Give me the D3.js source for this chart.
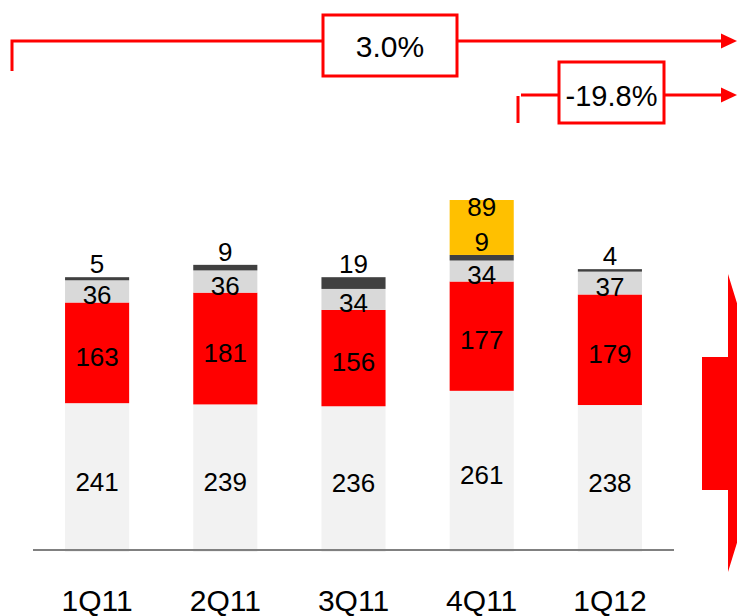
<!DOCTYPE html>
<html>
<head>
<meta charset="utf-8">
<script src="https://cdn.jsdelivr.net/npm/d3@7"></script>
<style>
  html, body { margin: 0; padding: 0; background: #fff; overflow: hidden; }
  text { font-family: Arial, "Liberation Sans", sans-serif; fill: #000; }
</style>
</head>
<body>
<div id="chart"></div>
<script>
// quarterly values, bottom segment first
const quarters = ["1Q11", "2Q11", "3Q11", "4Q11", "1Q12"];
const base   = [241, 239, 236, 261, 238];
const core   = [163, 181, 156, 177, 179];
const other  = [36, 36, 34, 34, 37];
const minor  = [5, 9, 19, 9, 4];
const extra  = [0, 0, 0, 89, 0];

const changeLabels = ["3.0%", "-19.8%"];

const width = 737, height = 616;

let svg = d3.select("#chart").append("svg")
    .attr("width", width)
    .attr("height", height);

let x = d3.scaleBand()
    .domain(quarters)
    .range([33, 674])
    .paddingInner(0.5)
    .paddingOuter(0.25);

let y = d3.scaleLinear()
    .domain([0, 570])
    .range([552, 200]);

let keys = ["base", "core", "other", "minor", "extra"];
let colors = {
  base: "#f2f2f2", core: "#ff0000", other: "#d9d9d9",
  minor: "#404040", extra: "#ffc000"
};

let table = quarters.map(function(q, i) {
  return { q: q, base: base[i], core: core[i], other: other[i],
           minor: minor[i], extra: extra[i] };
});

let series = d3.stack().keys(keys)(table);

let groups = svg.selectAll("g.layer")
  .data(series)
  .enter()
  .append("g")
  .attr("class", "layer")
  .attr("fill", function(d) { return colors[d.key]; });

groups.selectAll("rect")
  .data(function(d) { return d.filter(function(p) { return p[1] > p[0]; }); })
  .enter()
  .append("rect")
  .attr("x", function(d) { return x(d.data.q); })
  .attr("width", x.bandwidth())
  .attr("y", function(d) { return y(d[1]); })
  .attr("height", function(d) { return y(d[0]) - y(d[1]); });

// axis line
svg.append("line")
  .attr("x1", x.range()[0]).attr("x2", x.range()[1])
  .attr("y1", 550).attr("y2", 550)
  .attr("stroke", "#808080")
  .attr("stroke-width", 2);

// category labels
svg.selectAll("text.cat")
  .data(quarters)
  .enter()
  .append("text")
  .attr("class", "cat")
  .attr("x", function(d) { return x(d) + x.bandwidth() / 2; })
  .attr("y", 611)
  .attr("text-anchor", "middle")
  .attr("font-size", 30)
  .text(function(d) { return d; });

// value labels
let labels = [];
series.forEach(function(s) {
  s.forEach(function(p) {
    let v = p.data[s.key];
    if (!v) return;
    let cx = x(p.data.q) + x.bandwidth() / 2;
    let ly;
    if (s.key === "minor") ly = y(p[1]) - 4;
    else if (s.key === "extra") ly = y(p[1]) + 16;
    else ly = (y(p[0]) + y(p[1])) / 2 + 13;
    labels.push({ x: cx, y: ly, t: v });
  });
});

svg.selectAll("text.val")
  .data(labels)
  .enter()
  .append("text")
  .attr("class", "val")
  .attr("x", function(d) { return d.x; })
  .attr("y", function(d) { return d.y; })
  .attr("text-anchor", "middle")
  .attr("font-size", 26)
  .text(function(d) { return d.t; });

// growth brackets
let red = "#ff0000";

function arrowHead(yy) {
  svg.append("path")
    .attr("d", "M721," + (yy - 7.5) + "L737," + yy + "L721," + (yy + 7.5) + "Z")
    .attr("fill", red);
}

// 3.0% bracket
svg.append("path")
  .attr("d", "M12,71V41H323M457,41H722")
  .attr("fill", "none").attr("stroke", red).attr("stroke-width", 3);
svg.append("rect")
  .attr("x", 323).attr("y", 15).attr("width", 134).attr("height", 61)
  .attr("fill", "#fff").attr("stroke", red).attr("stroke-width", 3);
svg.append("text")
  .attr("x", 390).attr("y", 57)
  .attr("text-anchor", "middle").attr("font-size", 30)
  .text(changeLabels[0]);
arrowHead(41);

// -19.8% bracket
svg.append("path")
  .attr("d", "M518,123V96M521,95H559M664,95H722")
  .attr("fill", "none").attr("stroke", red).attr("stroke-width", 3);
svg.append("rect")
  .attr("x", 559).attr("y", 62).attr("width", 105).attr("height", 61)
  .attr("fill", "#fff").attr("stroke", red).attr("stroke-width", 3);
svg.append("text")
  .attr("x", 611.5).attr("y", 106)
  .attr("text-anchor", "middle").attr("font-size", 29)
  .text(changeLabels[1]);
arrowHead(95);

// big block arrow at right edge
svg.append("path")
  .attr("d", "M702,357H728V274L774,423L728,572V490H702Z")
  .attr("fill", red);
</script>
</body>
</html>
